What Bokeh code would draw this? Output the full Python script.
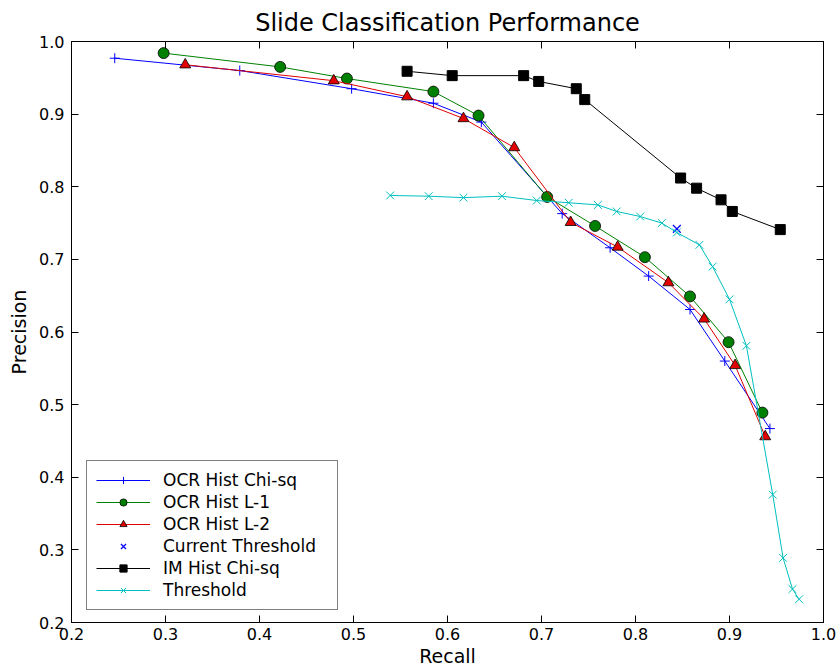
from bokeh.plotting import figure
from bokeh.models import LinearAxis, Range1d, Legend, LegendItem, FixedTicker
from bokeh.embed import file_html
from bokeh.resources import INLINE

# ---- data ----
chi_recall = [0.246, 0.379, 0.498, 0.585, 0.636, 0.722, 0.773, 0.814, 0.858, 0.895, 0.943]
chi_prec = [0.977, 0.960, 0.935, 0.915, 0.889, 0.763, 0.716, 0.677, 0.631, 0.560, 0.467]

l1_recall = [0.298, 0.422, 0.493, 0.585, 0.633, 0.706, 0.757, 0.810, 0.858, 0.899, 0.935]
l1_prec = [0.984, 0.965, 0.949, 0.931, 0.898, 0.786, 0.746, 0.703, 0.649, 0.586, 0.489]

l2_recall = [0.321, 0.479, 0.557, 0.617, 0.671, 0.731, 0.781, 0.835, 0.873, 0.906, 0.938]
l2_prec = [0.968, 0.946, 0.924, 0.894, 0.854, 0.751, 0.717, 0.668, 0.618, 0.554, 0.456]

cur_recall = [0.844]
cur_prec = [0.742]

im_recall = [0.557, 0.605, 0.681, 0.697, 0.737, 0.746, 0.848, 0.865, 0.891, 0.903, 0.954]
im_prec = [0.959, 0.953, 0.953, 0.945, 0.935, 0.920, 0.812, 0.798, 0.782, 0.766, 0.741]

thr_recall = [0.539, 0.580, 0.617, 0.658, 0.695, 0.729, 0.760, 0.780, 0.805, 0.828, 0.844,
              0.868, 0.882, 0.900, 0.918, 0.946, 0.957, 0.967, 0.974]
thr_prec = [0.788, 0.787, 0.785, 0.787, 0.781, 0.778, 0.775, 0.766, 0.759, 0.750, 0.737,
            0.720, 0.690, 0.645, 0.581, 0.376, 0.289, 0.246, 0.232]

x_ticks = [0.2, 0.3, 0.4, 0.5, 0.6, 0.7, 0.8, 0.9, 1.0]
y_ticks = [0.2, 0.3, 0.4, 0.5, 0.6, 0.7, 0.8, 0.9, 1.0]
tick_labels = ["0.2", "0.3", "0.4", "0.5", "0.6", "0.7", "0.8", "0.9", "1.0"]

FONT = "DejaVu Sans"

p = figure(frame_width=752, frame_height=581,
           x_range=Range1d(0.2, 1.0), y_range=Range1d(0.2, 1.0),
           output_backend="svg", toolbar_location=None,
           title="Slide Classification Performance",
           min_border_left=71, min_border_right=16, min_border_top=41, min_border_bottom=47)

p.title.align = "center"
p.title.text_font = FONT
p.title.text_font_size = "24px"
p.title.text_font_style = "normal"
p.title.text_color = "black"
p.title.standoff = 10

p.xgrid.visible = False
p.ygrid.visible = False
p.outline_line_color = "black"
p.outline_line_width = 1
p.background_fill_color = "white"
p.border_fill_color = "white"

labels = {t: l for t, l in zip(x_ticks, tick_labels)}
blank = {t: "" for t in x_ticks}

def style_axis(ax, ticks, show_labels):
    ax.ticker = FixedTicker(ticks=ticks)
    ax.major_label_overrides = labels if show_labels else blank
    ax.minor_tick_line_color = None
    ax.major_tick_in = 7
    ax.major_tick_out = 0
    ax.axis_line_color = "black"
    ax.major_tick_line_color = "black"
    ax.major_label_text_font = FONT
    ax.major_label_text_font_size = "16px"
    ax.major_label_text_color = "black"
    ax.axis_label_text_font = FONT
    ax.axis_label_text_font_size = "19px"
    ax.axis_label_text_font_style = "normal"
    ax.axis_label_text_color = "black"
    if not show_labels:
        ax.major_label_standoff = 0

p.xaxis.axis_label = "Recall"
p.yaxis.axis_label = "Precision"
style_axis(p.xaxis[0], x_ticks, True)
style_axis(p.yaxis[0], y_ticks, True)
p.xaxis.major_label_standoff = 5
p.yaxis.major_label_standoff = 7
p.xaxis.axis_label_standoff = 2
p.yaxis.axis_label_standoff = 6

top_ax = LinearAxis()
style_axis(top_ax, x_ticks, False)
p.add_layout(top_ax, "above")
right_ax = LinearAxis()
style_axis(right_ax, y_ticks, False)
p.add_layout(right_ax, "right")

BLUE = "#0000ff"
GREEN = "#008000"
RED = "#e00000"
CYAN = "#00bfbf"

r1l = p.line(chi_recall, chi_prec, line_color=BLUE, line_width=1)
r1m = p.scatter(chi_recall, chi_prec, marker="cross", size=10, line_color=BLUE, line_width=1)

r2l = p.line(l1_recall, l1_prec, line_color=GREEN, line_width=1)
r2m = p.scatter(l1_recall, l1_prec, marker="circle", size=11, fill_color=GREEN, line_color="black", line_width=0.8)

r3l = p.line(l2_recall, l2_prec, line_color=RED, line_width=1)
r3m = p.scatter(l2_recall, l2_prec, marker="triangle", size=11, fill_color=RED, line_color="black", line_width=0.8)

r4m = p.scatter(cur_recall, cur_prec, marker="x", size=11, line_color=BLUE, line_width=1.2)

r5l = p.line(im_recall, im_prec, line_color="black", line_width=1)
r5m = p.scatter(im_recall, im_prec, marker="square", size=10, fill_color="black", line_color="black")

r6l = p.line(thr_recall, thr_prec, line_color=CYAN, line_width=1)
r6m = p.scatter(thr_recall, thr_prec, marker="x", size=11, line_color=CYAN, line_width=1)

legend = Legend(items=[
    LegendItem(label="OCR Hist Chi-sq", renderers=[r1l, r1m]),
    LegendItem(label="OCR Hist L-1", renderers=[r2l, r2m]),
    LegendItem(label="OCR Hist L-2", renderers=[r3l, r3m]),
    LegendItem(label="Current Threshold", renderers=[r4m]),
    LegendItem(label="IM Hist Chi-sq", renderers=[r5l, r5m]),
    LegendItem(label="Threshold", renderers=[r6l, r6m]),
])
legend.location = (15, 12)
legend.border_line_color = "black"
legend.border_line_width = 1
legend.background_fill_alpha = 1
legend.label_text_font = FONT
legend.label_text_font_size = "17px"
legend.label_text_color = "black"
legend.glyph_width = 54
legend.glyph_height = 18
legend.label_height = 18
legend.label_width = 165
legend.spacing = 2
legend.label_standoff = 13
legend.padding = 9
legend.margin = 0
p.add_layout(legend, "center")

open("out.html", "w").write(file_html(p, INLINE))
